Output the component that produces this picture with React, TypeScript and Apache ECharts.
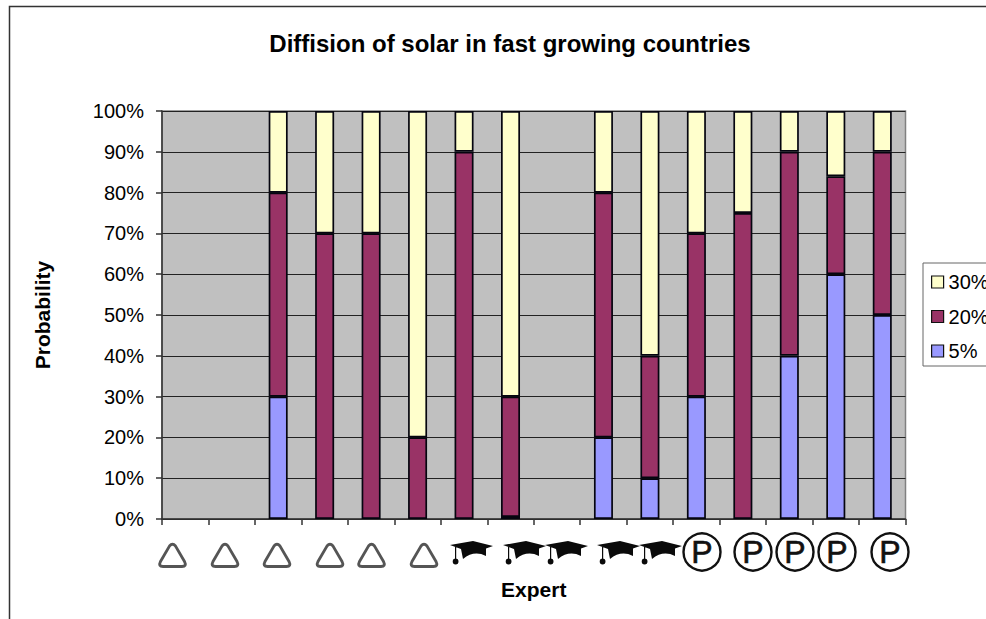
import React, { useEffect, useRef } from "react";
import * as echarts from "echarts";

const experts = ["E1","E2","E3","E4","E5","E6","E7","E8","E9","E10","E11","E12","E13","E14","E15","E16"];
const share5 = [null, null, 30, null, null, null, null, 0.5, null, 20, 10, 30, null, 40, 60, 50];
const share20 = [null, null, 50, 70, 70, 20, 90, 29.5, null, 60, 30, 40, 75, 50, 24, 40];
const share30 = [null, null, 20, 30, 30, 80, 10, 70, null, 20, 60, 30, 25, 10, 16, 10];
const legendOrder = ["30%", "20%", "5%"];

// Expert-type pictograms along the category axis: community, academic, practitioner.
const triangleCentres = [172.5, 225, 277, 330, 371.5, 424];
const capLefts = [450, 503, 545, 597, 639];
const practitionerCentres = [702, 753, 795, 837, 890];

const FONT = '"Liberation Sans", Arial, sans-serif';

const TRIANGLE_D =
  "M-3 -10 Q0 -13.5 3 -10 L12 5.5 Q14.5 10.5 9.5 10.5 L-9.5 10.5 Q-14.5 10.5 -12 5.5 Z";
const CAP_D =
  "M0 4 L23 0 L43 5 L36 7.5 L36 15 Q24 9 13 18 L11 8 Z " +
  "M5 6 L6.2 6 L6.2 18 L5 18 Z " +
  "M2.7 20.5 A2.9 2.9 0 1 1 8.5 20.5 A2.9 2.9 0 1 1 2.7 20.5 Z";

echarts.graphic.registerShape("roundedTriangle", echarts.graphic.extendPath(TRIANGLE_D, {}) as any);
echarts.graphic.registerShape("mortarboard", echarts.graphic.extendPath(CAP_D, {}) as any);

const pictograms = (): any[] => [
  ...triangleCentres.map((x) => ({
    type: "roundedTriangle",
    x,
    y: 556,
    style: { fill: "none", stroke: "#555555", lineWidth: 2.8 },
  })),
  ...capLefts.map((x) => ({
    type: "mortarboard",
    x,
    y: 541,
    style: { fill: "#0a0a0a" },
  })),
  ...practitionerCentres.flatMap((x) => [
    {
      type: "circle",
      shape: { cx: x, cy: 552, r: 18.5 },
      style: { fill: "#ffffff", stroke: "#111111", lineWidth: 2.4 },
    },
    {
      type: "text",
      x,
      y: 552,
      style: {
        text: "P",
        font: `400 32px ${FONT}`,
        fill: "#111111",
        stroke: "#111111",
        lineWidth: 0.6,
        align: "center",
        verticalAlign: "middle",
      },
    },
  ]),
];

const barSeries = (name: string, data: (number | null)[], color: string) => ({
  name,
  type: "bar",
  stack: "share",
  barWidth: 19,
  data,
  itemStyle: { color, borderColor: "#05050f", borderWidth: 1.7 },
});

export default function App() {
  const ref = useRef<HTMLDivElement>(null);

  useEffect(() => {
    document.body.style.margin = "0";
    const chart = echarts.init(ref.current!, null, { renderer: "svg" });
    chart.setOption({
      animation: false,
      backgroundColor: "#ffffff",
      title: {
        text: "Diffision of solar in fast growing countries",
        left: 505,
        top: 26,
        textAlign: "center",
        textStyle: { fontFamily: FONT, fontSize: 24, fontWeight: "bold", color: "#000" },
      },
      grid: {
        left: 162,
        top: 111,
        width: 743.5,
        height: 408,
        show: true,
        backgroundColor: "#C0C0C0",
        borderColor: "#808080",
        borderWidth: 1.5,
      },
      legend: {
        orient: "vertical",
        left: 923,
        top: 263,
        data: legendOrder,
        icon: "rect",
        itemWidth: 12,
        itemHeight: 12,
        itemGap: 14.5,
        padding: [9, 40, 5, 8],
        borderColor: "#666666",
        borderWidth: 1,
        backgroundColor: "#ffffff",
        textStyle: { fontFamily: FONT, fontSize: 20, color: "#000" },
        itemStyle: { borderColor: "#111111", borderWidth: 1.2 },
      },
      xAxis: {
        type: "category",
        data: experts,
        name: "Expert",
        nameLocation: "middle",
        nameGap: 60,
        nameTextStyle: { fontFamily: FONT, fontSize: 21, fontWeight: "bold", color: "#000" },
        axisLine: { lineStyle: { color: "#333333", width: 1.5 } },
        axisTick: { show: true, length: 6, lineStyle: { color: "#333333", width: 1.5 } },
        axisLabel: { show: false },
      },
      yAxis: {
        type: "value",
        min: 0,
        max: 100,
        interval: 10,
        name: "Probability",
        nameLocation: "middle",
        nameRotate: 90,
        nameGap: 109,
        nameTextStyle: { fontFamily: FONT, fontSize: 21, fontWeight: "bold", color: "#000" },
        axisLine: { show: true, lineStyle: { color: "#333333", width: 1.5 } },
        axisTick: { show: true, length: 6, lineStyle: { color: "#333333", width: 1.5 } },
        axisLabel: { formatter: "{value}%", margin: 18, fontFamily: FONT, fontSize: 20, color: "#000" },
        splitLine: { show: true, lineStyle: { color: "#222222", width: 1.2 } },
      },
      series: [
        barSeries("5%", share5, "#9999FF"),
        barSeries("20%", share20, "#993366"),
        barSeries("30%", share30, "#FFFFCC"),
      ],
      graphic: [
        {
          type: "rect",
          shape: { x: 9.5, y: 6.5, width: 1100, height: 800 },
          style: { fill: "none", stroke: "#333333", lineWidth: 1.5 },
          silent: true,
          z: -1,
        },
        ...pictograms(),
      ],
    });
    return () => chart.dispose();
  }, []);

  return <div ref={ref} style={{ position: "absolute", left: 0, top: 0, width: 986, height: 619 }} />;
}
